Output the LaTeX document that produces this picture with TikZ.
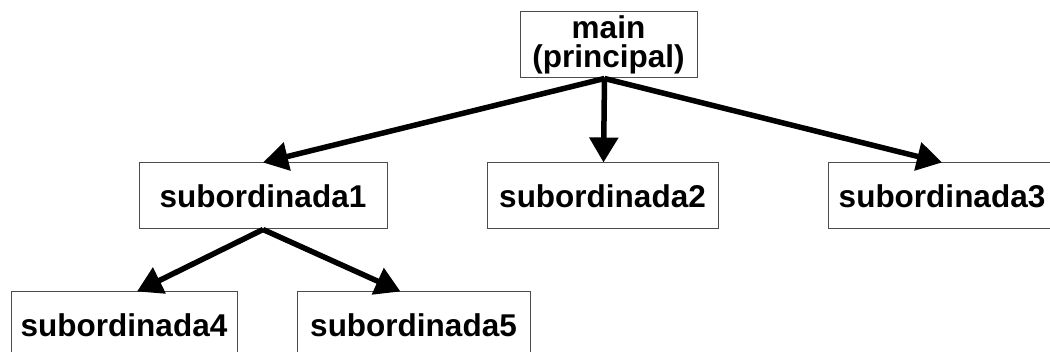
\documentclass[tikz,border=0pt]{standalone}
\usepackage{fontspec}
\setmainfont{Liberation Sans}
\usetikzlibrary{arrows.meta}
\begin{document}
\begin{tikzpicture}[x=1pt,y=1pt,
  box/.style={draw=black!70, line width=1pt, fill=white, inner sep=0pt,
    minimum height=66pt, font=\fontsize{31.5}{29}\selectfont\bfseries, align=center},
  link/.style={line width=5.5pt, -{Triangle[length=25pt,width=28pt]}}]
\useasboundingbox (0,0) rectangle (1050,-352);
\clip (0,0) rectangle (1050,-352);
% call tree boxes
\node[box, minimum width=177pt, minimum height=66pt] (main) at (608.5,-45) {main\\(principal)};
\node[box, minimum width=248pt] (s1) at (263,-196) {subordinada1};
\node[box, minimum width=231pt] (s2) at (602.5,-196) {subordinada2};
\node[box, minimum width=228pt] (s3) at (942,-196) {subordinada3};
\node[box, minimum width=226pt] (s4) at (124,-325) {subordinada4};
\node[box, minimum width=233pt] (s5) at (413.5,-325) {subordinada5};
% calls
\draw[link] ([xshift=-4pt]main.south) -- (s1.north);
\draw[link] ([xshift=-4pt]main.south) -- ([xshift=1pt]s2.north);
\draw[link] ([xshift=-4pt]main.south) -- (s3.north);
\draw[link] (s1.south) -- ([xshift=13pt]s4.north);
\draw[link] (s1.south) -- ([xshift=-13pt]s5.north);
\end{tikzpicture}
\end{document}
